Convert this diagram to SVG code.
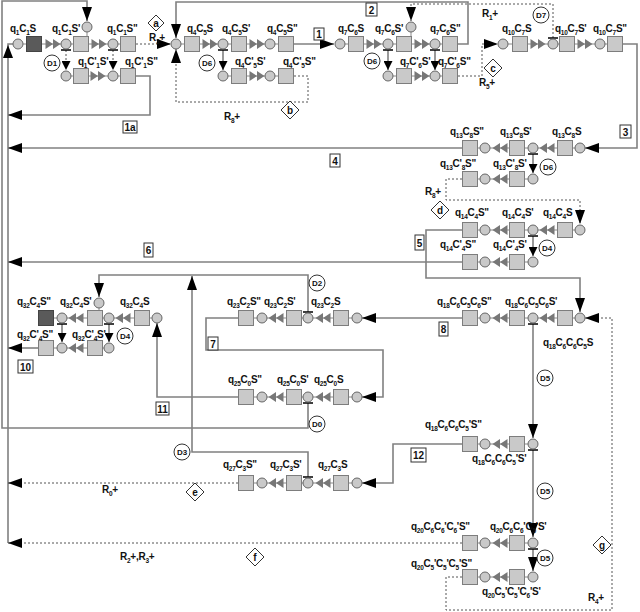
<svg xmlns="http://www.w3.org/2000/svg" width="640" height="612" viewBox="0 0 640 612">
<style>
.ln{fill:none;stroke:#808080;stroke-width:1.6}
.dt{fill:none;stroke:#555;stroke-width:1;stroke-dasharray:2,2}
.ch{fill:none;stroke:#888;stroke-width:1}
.tb{stroke:#000;stroke-width:1.5}
.lb{font-family:"Liberation Sans",Arial,sans-serif;font-weight:bold;font-size:10px;letter-spacing:-0.25px;fill:#111}
.s{font-size:6.5px}
.dc{fill:#fff;stroke:#333;stroke-width:1}
.dl{font-family:"Liberation Sans",Arial,sans-serif;font-weight:bold;font-size:8px;text-anchor:middle;fill:#111}
.nb{fill:#fff;stroke:#333;stroke-width:1}
.nl{font-family:"Liberation Sans",Arial,sans-serif;font-weight:bold;font-size:10px;text-anchor:middle;fill:#111}
</style>
<defs>
<marker id="ah" markerUnits="userSpaceOnUse" markerWidth="15" markerHeight="10" refX="14" refY="5" orient="auto"><path d="M0,0 L14,5 L0,10 z" fill="#000"/></marker>
<marker id="as" markerUnits="userSpaceOnUse" markerWidth="10" markerHeight="9" refX="9" refY="4.5" orient="auto"><path d="M0,0 L9,4.5 L0,9 z" fill="#000"/></marker>
<rect id="B" x="-7.5" y="-7.5" width="15" height="15" fill="#c9c9c9" stroke="#7d7d7d" stroke-width="1"/>
<rect id="BD" x="-7.5" y="-7.5" width="15" height="15" fill="#5a5a5a" stroke="#444" stroke-width="1"/>
<circle id="C" r="5" fill="#c9c9c9" stroke="#666" stroke-width="1"/>
<path id="R" d="M-7.5,-5 L0,0 L-7.5,5z M0,-5 L7.5,0 L0,5z" fill="#777"/>
<path id="L" d="M7.5,-5 L0,0 L7.5,5z M0,-5 L-7.5,0 L0,5z" fill="#777"/>
</defs>
<rect width="640" height="612" fill="#fff"/>

<g id="connectors">
<path class="ch" d="M23,44 H121 M66,76 H121 M181,44 H279 M223,76 H279 M345,44 H443 M388,76 H443 M508,44 H608
M462,148 H575 M478,179 H533 M478,230 H575 M478,262 H533 M478,318 H575 M478,444 H533 M478,543 H533 M478,577 H533
M254,318 H352 M254,397 H352 M254,483 H352 M53,318 H152 M53,348 H109 M87,32 V37 M411,32 V37 M99,308 V311"/>
<use href="#R" x="53" y="44"/><use href="#R" x="99" y="44"/><use href="#R" x="98" y="76"/>
<use href="#R" x="210" y="44"/><use href="#R" x="257" y="44"/><use href="#R" x="257" y="76"/>
<use href="#R" x="374" y="44"/><use href="#R" x="422" y="44"/><use href="#R" x="422" y="76"/>
<use href="#R" x="538" y="44"/><use href="#R" x="585" y="44"/>
<use href="#L" x="547" y="148"/><use href="#L" x="500" y="148"/><use href="#L" x="500" y="179"/>
<use href="#L" x="547" y="230"/><use href="#L" x="500" y="230"/><use href="#L" x="500" y="262"/>
<use href="#L" x="547" y="318"/><use href="#L" x="500" y="318"/>
<use href="#L" x="500" y="444"/><use href="#L" x="500" y="543"/><use href="#L" x="500" y="577"/>
<use href="#L" x="323" y="318"/><use href="#L" x="276" y="318"/>
<use href="#L" x="323" y="397"/><use href="#L" x="276" y="397"/>
<use href="#L" x="323" y="483"/><use href="#L" x="276" y="483"/>
<use href="#L" x="123" y="318"/><use href="#L" x="76" y="318"/><use href="#L" x="76" y="348"/>
<path class="ln" d="M8,543 V44 H13"/>
<polygon points="8,45 3,58 13,58" fill="#000"/>
<path class="ln" d="M308,403 V428 H2 V1 H87 V21" marker-end="url(#ah)"/>
<path class="ln" d="M458,44 H468 V2 H176 V38" marker-end="url(#ah)"/>
<path class="ln" d="M294,44 H334" marker-end="url(#ah)"/>
<path class="ln" d="M136,76 H150 V115 H8" marker-end="url(#ah)"/>
<path class="ln" d="M623,44 H637 V148 H585" marker-end="url(#ah)"/>
<path class="ln" d="M462,148 H8" marker-end="url(#ah)"/>
<path class="ln" d="M462,230 H426 V278 H580 V312" marker-end="url(#ah)"/>
<path class="ln" d="M462,262 H8" marker-end="url(#ah)"/>
<path class="ln" d="M462,318 H362" marker-end="url(#ah)"/>
<path class="ln" d="M238,318 H206 V350 H383 V397 H362" marker-end="url(#ah)"/>
<path class="ln" d="M308,312 V275 H99 V297" marker-end="url(#ah)"/>
<path class="ln" d="M238,397 H157 V323" marker-end="url(#ah)"/>
<path class="ln" d="M308,477 V452 H192 V276" marker-end="url(#ah)"/>
<path class="ln" d="M38,348 H8" marker-end="url(#ah)"/>
<path class="ln" d="M462,444 H393 V483 H362" marker-end="url(#ah)"/>
<path class="ln" d="M533,324 V438" marker-end="url(#ah)"/>
<path class="ln" d="M533,450 V537" marker-end="url(#ah)"/>
<path class="ln" d="M533,549 V571" marker-end="url(#ah)"/>
<path class="dt" d="M136,44 H171" marker-end="url(#ah)"/>
<path class="dt" d="M294,76 H308 V102 H176 V49" marker-end="url(#ah)"/>
<path class="dt" d="M458,76 H482 V44 H498" marker-end="url(#ah)"/>
<path class="dt" d="M553,38 V4 H411 V21" marker-end="url(#ah)"/>
<path class="dt" d="M462,179 H446 V200 H580 V224" marker-end="url(#ah)"/>
<path class="dt" d="M462,577 H446 V610 H612 V318 H585" marker-end="url(#ah)"/>
<path class="dt" d="M238,483 H8" marker-end="url(#ah)"/>
<path class="dt" d="M462,543 H8" marker-end="url(#ah)"/>
<path class="dt" d="M66,50 V70" marker-end="url(#as)"/>
<path class="dt" d="M113,50 V70" marker-end="url(#as)"/>
<path class="ln" d="M223,50 V70" marker-end="url(#as)"/>
<path class="ln" d="M388,50 V70" marker-end="url(#as)"/>
<path class="ln" d="M435,50 V70" marker-end="url(#as)"/>
<path class="ln" d="M533,154 V173" marker-end="url(#as)"/>
<path class="ln" d="M533,236 V256" marker-end="url(#as)"/>
<path class="ln" d="M62,324 V342" marker-end="url(#as)"/>
<path class="ln" d="M109,324 V342" marker-end="url(#as)"/>
<path class="tb" d="M61,50 H71 M108,50 H118 M218,50 H228 M383,50 H393 M430,50 H440 M548,38 H558 M528,154 H538 M528,236 H538 M528,324 H538 M303,312 H313 M303,403 H313 M303,477 H313 M57,324 H67 M104,324 H114 M528,450 H538 M528,549 H538"/>
</g>

<g id="q1C1S"><use href="#C" x="18" y="44"/><use href="#BD" x="34" y="44"/><text class="lb" x="10" y="32">q<tspan class="s" dy="3">1</tspan><tspan dy="-3">C</tspan><tspan class="s" dy="3">1</tspan><tspan dy="-3">S</tspan></text></g>
<g id="q1C1S1"><use href="#C" x="66" y="44"/><use href="#B" x="81" y="44"/><use href="#C" x="87" y="27"/><text class="lb" x="52" y="32">q<tspan class="s" dy="3">1</tspan><tspan dy="-3">C</tspan><tspan class="s" dy="3">1</tspan><tspan dy="-3">S'</tspan></text></g>
<g id="q1C1S2"><use href="#C" x="113" y="44"/><use href="#B" x="128" y="44"/><text class="lb" x="107" y="32">q<tspan class="s" dy="3">1</tspan><tspan dy="-3">C</tspan><tspan class="s" dy="3">1</tspan><tspan dy="-3">S"</tspan></text></g>
<g id="q1Cp1S1"><use href="#C" x="66" y="76"/><use href="#B" x="81" y="76"/><text class="lb" x="78" y="65">q<tspan class="s" dy="3">1</tspan><tspan dy="-3">C'</tspan><tspan class="s" dy="3">1</tspan><tspan dy="-3">S'</tspan></text></g>
<g id="q1Cp1S2"><use href="#C" x="113" y="76"/><use href="#B" x="128" y="76"/><text class="lb" x="125" y="65">q<tspan class="s" dy="3">1</tspan><tspan dy="-3">C'</tspan><tspan class="s" dy="3">1</tspan><tspan dy="-3">S"</tspan></text></g>

<g id="q4C5S"><use href="#C" x="176" y="44"/><use href="#B" x="192" y="44"/><text class="lb" x="187" y="32">q<tspan class="s" dy="3">4</tspan><tspan dy="-3">C</tspan><tspan class="s" dy="3">5</tspan><tspan dy="-3">S</tspan></text></g>
<g id="q4C5S1"><use href="#C" x="223" y="44"/><use href="#B" x="239" y="44"/><text class="lb" x="222" y="32">q<tspan class="s" dy="3">4</tspan><tspan dy="-3">C</tspan><tspan class="s" dy="3">5</tspan><tspan dy="-3">S'</tspan></text></g>
<g id="q4C5S2"><use href="#C" x="270" y="44"/><use href="#B" x="286" y="44"/><text class="lb" x="267" y="32">q<tspan class="s" dy="3">4</tspan><tspan dy="-3">C</tspan><tspan class="s" dy="3">5</tspan><tspan dy="-3">S"</tspan></text></g>
<g id="q4Cp5S1"><use href="#C" x="223" y="76"/><use href="#B" x="239" y="76"/><text class="lb" x="235" y="65">q<tspan class="s" dy="3">4</tspan><tspan dy="-3">C'</tspan><tspan class="s" dy="3">5</tspan><tspan dy="-3">S'</tspan></text></g>
<g id="q4Cp5S2"><use href="#C" x="270" y="76"/><use href="#B" x="286" y="76"/><text class="lb" x="283" y="65">q<tspan class="s" dy="3">4</tspan><tspan dy="-3">C'</tspan><tspan class="s" dy="3">5</tspan><tspan dy="-3">S"</tspan></text></g>

<g id="q7C6S"><use href="#C" x="340" y="44"/><use href="#B" x="356" y="44"/><text class="lb" x="338" y="32">q<tspan class="s" dy="3">7</tspan><tspan dy="-3">C</tspan><tspan class="s" dy="3">6</tspan><tspan dy="-3">S</tspan></text></g>
<g id="q7C6S1"><use href="#C" x="388" y="44"/><use href="#B" x="404" y="44"/><use href="#C" x="411" y="27"/><text class="lb" x="375" y="32">q<tspan class="s" dy="3">7</tspan><tspan dy="-3">C</tspan><tspan class="s" dy="3">6</tspan><tspan dy="-3">S'</tspan></text></g>
<g id="q7C6S2"><use href="#C" x="435" y="44"/><use href="#B" x="450" y="44"/><text class="lb" x="430" y="32">q<tspan class="s" dy="3">7</tspan><tspan dy="-3">C</tspan><tspan class="s" dy="3">6</tspan><tspan dy="-3">S"</tspan></text></g>
<g id="q7Cp6S1"><use href="#C" x="388" y="76"/><use href="#B" x="404" y="76"/><text class="lb" x="400" y="65">q<tspan class="s" dy="3">7</tspan><tspan dy="-3">C'</tspan><tspan class="s" dy="3">6</tspan><tspan dy="-3">S'</tspan></text></g>
<g id="q7Cp6S2"><use href="#C" x="435" y="76"/><use href="#B" x="450" y="76"/><text class="lb" x="438" y="65">q<tspan class="s" dy="3">7</tspan><tspan dy="-3">C'</tspan><tspan class="s" dy="3">6</tspan><tspan dy="-3">S"</tspan></text></g>

<g id="q10C7S"><use href="#C" x="503" y="44"/><use href="#B" x="520" y="44"/><text class="lb" x="502" y="32">q<tspan class="s" dy="3">10</tspan><tspan dy="-3">C</tspan><tspan class="s" dy="3">7</tspan><tspan dy="-3">S</tspan></text></g>
<g id="q10C7S1"><use href="#C" x="553" y="44"/><use href="#B" x="567" y="44"/><text class="lb" x="555" y="32">q<tspan class="s" dy="3">10</tspan><tspan dy="-3">C</tspan><tspan class="s" dy="3">7</tspan><tspan dy="-3">S'</tspan></text></g>
<g id="q10C7S2"><use href="#C" x="600" y="44"/><use href="#B" x="615" y="44"/><text class="lb" x="593" y="32">q<tspan class="s" dy="3">10</tspan><tspan dy="-3">C</tspan><tspan class="s" dy="3">7</tspan><tspan dy="-3">S"</tspan></text></g>

<g id="q13C8S"><use href="#C" x="580" y="148"/><use href="#B" x="565" y="148"/><text class="lb" x="552" y="135">q<tspan class="s" dy="3">13</tspan><tspan dy="-3">C</tspan><tspan class="s" dy="3">8</tspan><tspan dy="-3">S</tspan></text></g>
<g id="q13C8S1"><use href="#C" x="533" y="148"/><use href="#B" x="517" y="148"/><text class="lb" x="500" y="135">q<tspan class="s" dy="3">13</tspan><tspan dy="-3">C</tspan><tspan class="s" dy="3">8</tspan><tspan dy="-3">S'</tspan></text></g>
<g id="q13C8S2"><use href="#C" x="485" y="148"/><use href="#B" x="470" y="148"/><text class="lb" x="450" y="135">q<tspan class="s" dy="3">13</tspan><tspan dy="-3">C</tspan><tspan class="s" dy="3">8</tspan><tspan dy="-3">S"</tspan></text></g>
<g id="q13Cp8S1"><use href="#C" x="533" y="179"/><use href="#B" x="517" y="179"/><text class="lb" x="493" y="167">q<tspan class="s" dy="3">13</tspan><tspan dy="-3">C'</tspan><tspan class="s" dy="3">8</tspan><tspan dy="-3">S'</tspan></text></g>
<g id="q13Cp8S2"><use href="#C" x="485" y="179"/><use href="#B" x="470" y="179"/><text class="lb" x="440" y="167">q<tspan class="s" dy="3">13</tspan><tspan dy="-3">C'</tspan><tspan class="s" dy="3">8</tspan><tspan dy="-3">S"</tspan></text></g>

<g id="q14C4S"><use href="#C" x="580" y="230"/><use href="#B" x="565" y="230"/><text class="lb" x="543" y="216">q<tspan class="s" dy="3">14</tspan><tspan dy="-3">C</tspan><tspan class="s" dy="3">4</tspan><tspan dy="-3">S</tspan></text></g>
<g id="q14C4S1"><use href="#C" x="533" y="230"/><use href="#B" x="517" y="230"/><text class="lb" x="502" y="216">q<tspan class="s" dy="3">14</tspan><tspan dy="-3">C</tspan><tspan class="s" dy="3">4</tspan><tspan dy="-3">S'</tspan></text></g>
<g id="q14C4S2"><use href="#C" x="485" y="230"/><use href="#B" x="470" y="230"/><text class="lb" x="455" y="216">q<tspan class="s" dy="3">14</tspan><tspan dy="-3">C</tspan><tspan class="s" dy="3">4</tspan><tspan dy="-3">S"</tspan></text></g>
<g id="q14Cp4S1"><use href="#C" x="533" y="262"/><use href="#B" x="517" y="262"/><text class="lb" x="493" y="248">q<tspan class="s" dy="3">14</tspan><tspan dy="-3">C'</tspan><tspan class="s" dy="3">4</tspan><tspan dy="-3">S'</tspan></text></g>
<g id="q14Cp4S2"><use href="#C" x="485" y="262"/><use href="#B" x="470" y="262"/><text class="lb" x="440" y="248">q<tspan class="s" dy="3">14</tspan><tspan dy="-3">C'</tspan><tspan class="s" dy="3">4</tspan><tspan dy="-3">S"</tspan></text></g>

<g id="q18S"><use href="#C" x="580" y="318"/><use href="#B" x="565" y="318"/><text class="lb" x="543" y="346">q<tspan class="s" dy="3">18</tspan><tspan dy="-3">C</tspan><tspan class="s" dy="3">6</tspan><tspan dy="-3">C</tspan><tspan class="s" dy="3">6</tspan><tspan dy="-3">C</tspan><tspan class="s" dy="3">5</tspan><tspan dy="-3">S</tspan></text></g>
<g id="q18S1"><use href="#C" x="533" y="318"/><use href="#B" x="517" y="318"/><text class="lb" x="505" y="305">q<tspan class="s" dy="3">18</tspan><tspan dy="-3">C</tspan><tspan class="s" dy="3">6</tspan><tspan dy="-3">C</tspan><tspan class="s" dy="3">5</tspan><tspan dy="-3">C</tspan><tspan class="s" dy="3">6</tspan><tspan dy="-3">S'</tspan></text></g>
<g id="q18S2"><use href="#C" x="485" y="318"/><use href="#B" x="470" y="318"/><text class="lb" x="437" y="305">q<tspan class="s" dy="3">18</tspan><tspan dy="-3">C</tspan><tspan class="s" dy="3">6</tspan><tspan dy="-3">C</tspan><tspan class="s" dy="3">5</tspan><tspan dy="-3">C</tspan><tspan class="s" dy="3">6</tspan><tspan dy="-3">S"</tspan></text></g>
<g id="q18bS1"><use href="#C" x="533" y="444"/><use href="#B" x="517" y="444"/><text class="lb" x="472" y="462">q<tspan class="s" dy="3">18</tspan><tspan dy="-3">C</tspan><tspan class="s" dy="3">6</tspan><tspan dy="-3">C</tspan><tspan class="s" dy="3">6</tspan><tspan dy="-3">C</tspan><tspan class="s" dy="3">5</tspan><tspan dy="-3">'S'</tspan></text></g>
<g id="q18bS2"><use href="#C" x="485" y="444"/><use href="#B" x="470" y="444"/><text class="lb" x="425" y="428">q<tspan class="s" dy="3">18</tspan><tspan dy="-3">C</tspan><tspan class="s" dy="3">6</tspan><tspan dy="-3">C</tspan><tspan class="s" dy="3">6</tspan><tspan dy="-3">C</tspan><tspan class="s" dy="3">5</tspan><tspan dy="-3">'S"</tspan></text></g>

<g id="q20aS1"><use href="#C" x="533" y="543"/><use href="#B" x="517" y="543"/><text class="lb" x="490" y="530">q<tspan class="s" dy="3">20</tspan><tspan dy="-3">C</tspan><tspan class="s" dy="3">6</tspan><tspan dy="-3">C</tspan><tspan class="s" dy="3">6</tspan><tspan dy="-3">'C</tspan><tspan class="s" dy="3">5</tspan><tspan dy="-3">'S'</tspan></text></g>
<g id="q20aS2"><use href="#C" x="485" y="543"/><use href="#B" x="470" y="543"/><text class="lb" x="411" y="530">q<tspan class="s" dy="3">20</tspan><tspan dy="-3">C</tspan><tspan class="s" dy="3">6</tspan><tspan dy="-3">C</tspan><tspan class="s" dy="3">6</tspan><tspan dy="-3">'C</tspan><tspan class="s" dy="3">6</tspan><tspan dy="-3">'S"</tspan></text></g>
<g id="q20bS1"><use href="#C" x="533" y="577"/><use href="#B" x="517" y="577"/><text class="lb" x="482" y="595">q<tspan class="s" dy="3">20</tspan><tspan dy="-3">C</tspan><tspan class="s" dy="3">5</tspan><tspan dy="-3">'C</tspan><tspan class="s" dy="3">5</tspan><tspan dy="-3">'C</tspan><tspan class="s" dy="3">6</tspan><tspan dy="-3">'S'</tspan></text></g>
<g id="q20bS2"><use href="#C" x="485" y="577"/><use href="#B" x="470" y="577"/><text class="lb" x="411" y="567">q<tspan class="s" dy="3">20</tspan><tspan dy="-3">C</tspan><tspan class="s" dy="3">5</tspan><tspan dy="-3">'C</tspan><tspan class="s" dy="3">5</tspan><tspan dy="-3">'C</tspan><tspan class="s" dy="3">5</tspan><tspan dy="-3">'S"</tspan></text></g>

<g id="q23C2S"><use href="#C" x="357" y="318"/><use href="#B" x="341" y="318"/><text class="lb" x="311" y="305">q<tspan class="s" dy="3">23</tspan><tspan dy="-3">C</tspan><tspan class="s" dy="3">2</tspan><tspan dy="-3">S</tspan></text></g>
<g id="q23C2S1"><use href="#C" x="308" y="318"/><use href="#B" x="294" y="318"/><text class="lb" x="264" y="305">q<tspan class="s" dy="3">23</tspan><tspan dy="-3">C</tspan><tspan class="s" dy="3">2</tspan><tspan dy="-3">S'</tspan></text></g>
<g id="q23C2S2"><use href="#C" x="262" y="318"/><use href="#B" x="246" y="318"/><text class="lb" x="227" y="305">q<tspan class="s" dy="3">23</tspan><tspan dy="-3">C</tspan><tspan class="s" dy="3">2</tspan><tspan dy="-3">S"</tspan></text></g>

<g id="q25C0S"><use href="#C" x="357" y="397"/><use href="#B" x="341" y="397"/><text class="lb" x="314" y="383">q<tspan class="s" dy="3">25</tspan><tspan dy="-3">C</tspan><tspan class="s" dy="3">0</tspan><tspan dy="-3">S</tspan></text></g>
<g id="q25C0S1"><use href="#C" x="308" y="397"/><use href="#B" x="294" y="397"/><text class="lb" x="277" y="383">q<tspan class="s" dy="3">25</tspan><tspan dy="-3">C</tspan><tspan class="s" dy="3">0</tspan><tspan dy="-3">S'</tspan></text></g>
<g id="q25C0S2"><use href="#C" x="262" y="397"/><use href="#B" x="246" y="397"/><text class="lb" x="228" y="383">q<tspan class="s" dy="3">25</tspan><tspan dy="-3">C</tspan><tspan class="s" dy="3">0</tspan><tspan dy="-3">S"</tspan></text></g>

<g id="q27C3S"><use href="#C" x="357" y="483"/><use href="#B" x="341" y="483"/><text class="lb" x="318" y="468">q<tspan class="s" dy="3">27</tspan><tspan dy="-3">C</tspan><tspan class="s" dy="3">3</tspan><tspan dy="-3">S</tspan></text></g>
<g id="q27C3S1"><use href="#C" x="308" y="483"/><use href="#B" x="294" y="483"/><text class="lb" x="270" y="468">q<tspan class="s" dy="3">27</tspan><tspan dy="-3">C</tspan><tspan class="s" dy="3">3</tspan><tspan dy="-3">S'</tspan></text></g>
<g id="q27C3S2"><use href="#C" x="262" y="483"/><use href="#B" x="246" y="483"/><text class="lb" x="223" y="468">q<tspan class="s" dy="3">27</tspan><tspan dy="-3">C</tspan><tspan class="s" dy="3">3</tspan><tspan dy="-3">S"</tspan></text></g>

<g id="q32C4S"><use href="#C" x="157" y="318"/><use href="#B" x="142" y="318"/><text class="lb" x="120" y="305">q<tspan class="s" dy="3">32</tspan><tspan dy="-3">C</tspan><tspan class="s" dy="3">4</tspan><tspan dy="-3">S</tspan></text></g>
<g id="q32C4S1"><use href="#C" x="109" y="318"/><use href="#B" x="95" y="318"/><use href="#C" x="99" y="303"/><text class="lb" x="60" y="305">q<tspan class="s" dy="3">32</tspan><tspan dy="-3">C</tspan><tspan class="s" dy="3">4</tspan><tspan dy="-3">S'</tspan></text></g>
<g id="q32C4S2"><use href="#C" x="62" y="318"/><use href="#BD" x="46" y="318"/><text class="lb" x="17" y="305">q<tspan class="s" dy="3">32</tspan><tspan dy="-3">C</tspan><tspan class="s" dy="3">4</tspan><tspan dy="-3">S"</tspan></text></g>
<g id="q32Cp4S1"><use href="#C" x="109" y="348"/><use href="#B" x="95" y="348"/><text class="lb" x="72" y="338">q<tspan class="s" dy="3">32</tspan><tspan dy="-3">C'</tspan><tspan class="s" dy="3">4</tspan><tspan dy="-3">S'</tspan></text></g>
<g id="q32Cp4S2"><use href="#C" x="62" y="348"/><use href="#B" x="46" y="348"/><text class="lb" x="17" y="338">q<tspan class="s" dy="3">32</tspan><tspan dy="-3">C'</tspan><tspan class="s" dy="3">4</tspan><tspan dy="-3">S"</tspan></text></g>

<g id="dividers">
<circle class="dc" cx="52" cy="63" r="8"/><text class="dl" x="52" y="66">D1</text>
<circle class="dc" cx="207" cy="63" r="8"/><text class="dl" x="207" y="66">D6</text>
<circle class="dc" cx="372" cy="61" r="8"/><text class="dl" x="372" y="64">D6</text>
<circle class="dc" cx="541" cy="15" r="8"/><text class="dl" x="541" y="18">D7</text>
<circle class="dc" cx="548" cy="167" r="8"/><text class="dl" x="548" y="170">D6</text>
<circle class="dc" cx="547" cy="248" r="8"/><text class="dl" x="547" y="251">D4</text>
<circle class="dc" cx="317" cy="283" r="8"/><text class="dl" x="317" y="286">D2</text>
<circle class="dc" cx="125" cy="336" r="8"/><text class="dl" x="125" y="339">D4</text>
<circle class="dc" cx="317" cy="424" r="8"/><text class="dl" x="317" y="427">D0</text>
<circle class="dc" cx="182" cy="452" r="8"/><text class="dl" x="182" y="455">D3</text>
<circle class="dc" cx="545" cy="378" r="8"/><text class="dl" x="545" y="381">D5</text>
<circle class="dc" cx="545" cy="491" r="8"/><text class="dl" x="545" y="494">D5</text>
<circle class="dc" cx="545" cy="558" r="8"/><text class="dl" x="545" y="561">D5</text>
</g>

<g id="diamonds">
<path class="dc" d="M156,15 L164,23 L156,31 L148,23 Z"/><text class="nl" x="156" y="26.5">a</text>
<path class="dc" d="M290,101 L299,110 L290,119 L281,110 Z"/><text class="nl" x="290" y="113.5">b</text>
<path class="dc" d="M493,59 L502,68 L493,77 L484,68 Z"/><text class="nl" x="493" y="71.5">c</text>
<path class="dc" d="M440,201 L449,210 L440,219 L431,210 Z"/><text class="nl" x="440" y="213.5">d</text>
<path class="dc" d="M195,483 L204,492 L195,501 L186,492 Z"/><text class="nl" x="195" y="495.5">e</text>
<path class="dc" d="M255,548 L264,557 L255,566 L246,557 Z"/><text class="nl" x="255" y="560.5">f</text>
<path class="dc" d="M602,536 L611,545 L602,554 L593,545 Z"/><text class="nl" x="602" y="548.5">g</text>
</g>

<g id="rates">
<text class="lb" x="149" y="41">R<tspan class="s" dy="3">3</tspan><tspan dy="-3">+</tspan></text>
<text class="lb" x="224" y="120">R<tspan class="s" dy="3">8</tspan><tspan dy="-3">+</tspan></text>
<text class="lb" x="482" y="17">R<tspan class="s" dy="3">1</tspan><tspan dy="-3">+</tspan></text>
<text class="lb" x="479" y="86">R<tspan class="s" dy="3">5</tspan><tspan dy="-3">+</tspan></text>
<text class="lb" x="425" y="195">R<tspan class="s" dy="3">8</tspan><tspan dy="-3">+</tspan></text>
<text class="lb" x="102" y="493">R<tspan class="s" dy="3">0</tspan><tspan dy="-3">+</tspan></text>
<text class="lb" x="120" y="560">R<tspan class="s" dy="3">2</tspan><tspan dy="-3">+,R</tspan><tspan class="s" dy="3">3</tspan><tspan dy="-3">+</tspan></text>
<text class="lb" x="588" y="601">R<tspan class="s" dy="3">4</tspan><tspan dy="-3">+</tspan></text>
</g>

<g id="numbers">
<rect class="nb" x="314" y="28" width="10" height="12"/><text class="nl" x="319" y="38">1</text>
<rect class="nb" x="123" y="121" width="14" height="12"/><text class="nl" x="130" y="131">1a</text>
<rect class="nb" x="366" y="3" width="11" height="13"/><text class="nl" x="371.5" y="13.5">2</text>
<rect class="nb" x="620" y="125" width="11" height="13"/><text class="nl" x="625.5" y="135.5">3</text>
<rect class="nb" x="330" y="154" width="10" height="13"/><text class="nl" x="335" y="164.5">4</text>
<rect class="nb" x="415" y="235" width="9" height="15"/><text class="nl" x="419.5" y="246.5">5</text>
<rect class="nb" x="144" y="243" width="9" height="14"/><text class="nl" x="148.5" y="254">6</text>
<rect class="nb" x="208" y="337" width="10" height="13"/><text class="nl" x="213" y="347.5">7</text>
<rect class="nb" x="439" y="322" width="9" height="14"/><text class="nl" x="443.5" y="333">8</text>
<rect class="nb" x="18" y="360" width="15" height="13"/><text class="nl" x="25.5" y="370.5">10</text>
<rect class="nb" x="156" y="402" width="13" height="13"/><text class="nl" x="162.5" y="412.5">11</text>
<rect class="nb" x="411" y="448" width="15" height="14"/><text class="nl" x="418.5" y="459">12</text>
</g>
</svg>
